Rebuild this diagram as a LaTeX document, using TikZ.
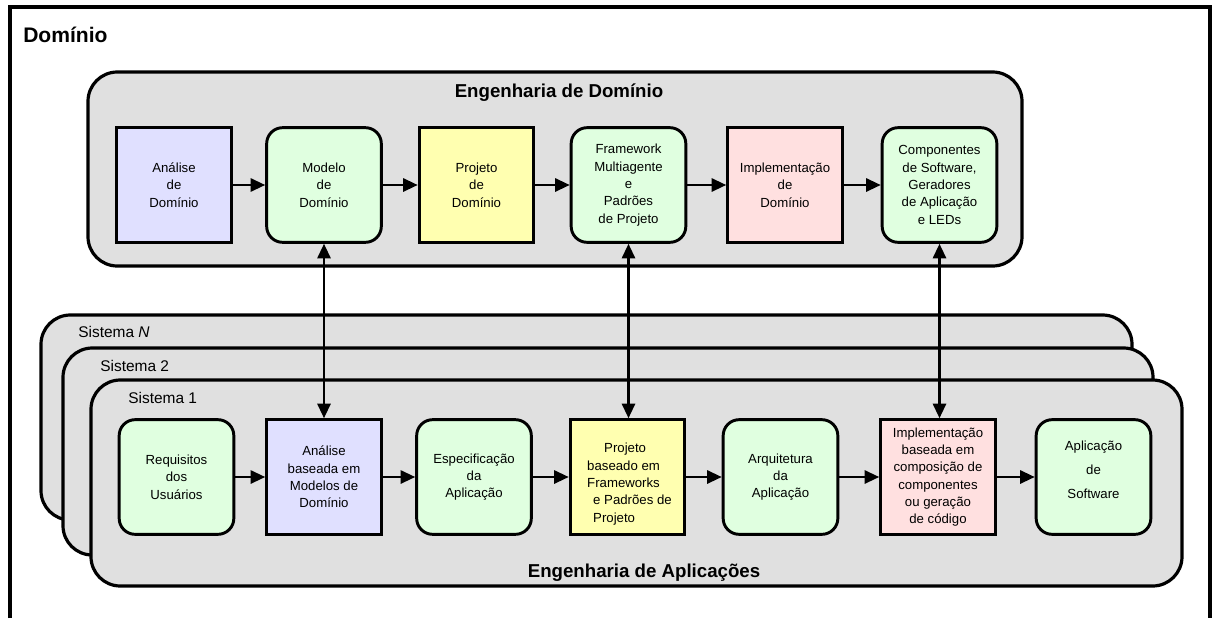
\documentclass[tikz,border=0pt]{standalone}
\usepackage{fontspec}
\setmainfont{Liberation Sans}
\usetikzlibrary{arrows.meta}
\definecolor{cgrey}{HTML}{E0E0E0}
\definecolor{cgreen}{HTML}{E0FFE0}
\definecolor{cblue}{HTML}{E0E0FF}
\definecolor{cyellow}{HTML}{FFFFB0}
\definecolor{cpink}{HTML}{FFE0E0}
\begin{document}
\begin{tikzpicture}[x=0.75pt,y=-0.75pt,
  frame/.style={line width=2.4pt, line join=miter},
  container/.style={draw, line width=2.4pt, fill=cgrey, rounded corners=22pt},
  boxbase/.style={draw, line width=2.2pt, minimum width=86pt, minimum height=86pt,
    align=center, inner sep=0pt, font=\fontsize{9.9}{13}\selectfont},
  rbox/.style={boxbase, rounded corners=12pt, fill=cgreen},
  sbox/.style={boxbase, fill=#1},
  txt/.style={inner sep=0pt, font=\fontsize{9.9}{13}\selectfont},
  title/.style={inner sep=0pt, font=\fontsize{14}{16}\selectfont\bfseries},
  syslabel/.style={inner sep=0pt, anchor=base west, font=\fontsize{11.6}{14}\selectfont},
  tip/.tip={Triangle[length=11pt,width=10pt]},
  arr/.style={line width=1.6pt, -tip},
  darr/.style={line width=1.6pt, tip-tip}
]
\useasboundingbox (0,0) rectangle (1214,618);
% outer frame
\draw[frame] (10,618) -- (10,7) -- (1210,7) -- (1210,618);
\node[inner sep=0pt, anchor=base west, font=\fontsize{15.8}{18}\selectfont\bfseries] (dom) at (23,42) {Domínio};

% Engenharia de Dominio container
\draw[container] (88,72) rectangle (1022,266);
\node[title, anchor=base] (engdom) at (559,97) {Engenharia de Domínio};

% system containers
\draw[container] (41,315) rectangle (1132,520);
\draw[container] (63,348) rectangle (1153,555);
\draw[container] (91,380) rectangle (1182,586);
\node[syslabel] (sysN) at (78,337) {Sistema \textit{N}};
\node[syslabel] (sys2) at (100,371) {Sistema 2};
\node[syslabel] (sys1) at (128,403) {Sistema 1};
\node[title, anchor=base] (engapp) at (644,577) {Engenharia de Aplicações};

% top row
\node[sbox=cblue] (A1) at (174,185) {Análise\\de\\Domínio};
\node[rbox] (A2) at (324,185) {Modelo\\de\\Domínio};
\node[sbox=cyellow] (A3) at (476.5,185) {Projeto\\de\\Domínio};
\node[rbox] (A4) at (628.5,185) {Framework\\Multiagente\\e\\Padrões\\de Projeto};
\node[sbox=cpink] (A5) at (785,185) {Implementação\\de\\Domínio};
\node[rbox] (A6) at (939.5,185) {Componentes\\de Software,\\Geradores\\de Aplicação\\e LEDs};

% bottom row
\node[rbox] (B1) at (176.5,477) {Requisitos\\dos\\Usuários};
\node[sbox=cblue] (B2) at (324,477) {Análise\\baseada em\\Modelos de\\Domínio};
\node[rbox] (B3) at (474,477) {Especificação\\da\\Aplicação};
\node[sbox=cyellow] (B4) at (627.5,477) {};
\node[txt, align=left] (B4t) at (629.5,484) {\hspace{12.75pt}Projeto\\baseado em\\Frameworks\\\hspace{4.5pt}e Padrões de\\\hspace{4.5pt}Projeto};
\node[rbox] (B5) at (780.5,477) {Arquitetura\\da\\Aplicação};
\node[sbox=cpink] (B6) at (938,477) {Implementação\\baseada em\\composição de\\componentes\\ou geração\\de código};
\node[rbox] (B7) at (1093.5,477) {};
\node[txt, align=center, font=\fontsize{9.9}{18}\selectfont] (B7t) at (1093.5,470) {Aplicação\\de\\Software};

% horizontal arrows
\draw[arr] (A1) -- (A2);
\draw[arr] (A2) -- (A3);
\draw[arr] (A3) -- (A4);
\draw[arr] (A4) -- (A5);
\draw[arr] (A5) -- (A6);
\draw[arr] (B1) -- (B2);
\draw[arr] (B2) -- (B3);
\draw[arr] (B3) -- (B4);
\draw[arr] (B4) -- (B5);
\draw[arr] (B5) -- (B6);
\draw[arr] (B6) -- (B7);

% vertical double arrows
\draw[darr] (A2.south) -- (A2.south |- B2.north);
\draw[darr] (A4.south) -- (A4.south |- B4.north);
\draw[darr] (A6.south) -- (A6.south |- B6.north);
\end{tikzpicture}
\end{document}
